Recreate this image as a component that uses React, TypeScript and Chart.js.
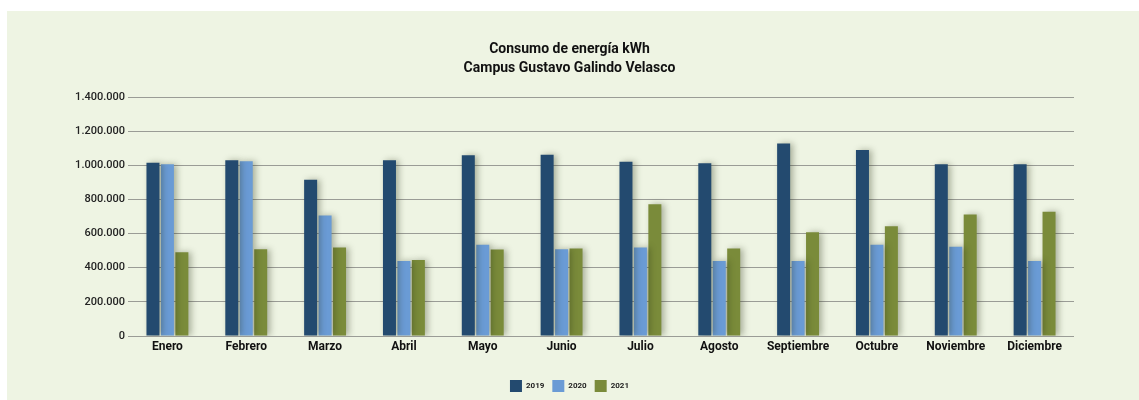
import React, { useEffect, useRef } from "react";
import { Chart, registerables } from "chart.js";

Chart.register(...registerables);

const months = ["Enero", "Febrero", "Marzo", "Abril", "Mayo", "Junio", "Julio", "Agosto", "Septiembre", "Octubre", "Noviembre", "Diciembre"];
const v2019 = [1015000, 1030000, 916000, 1029000, 1059000, 1061000, 1021000, 1012000, 1128000, 1090000, 1006000, 1006000];
const v2020 = [1006000, 1023000, 706000, 439000, 535000, 508000, 518000, 439000, 439000, 535000, 523000, 439000];
const v2021 = [490000, 508000, 519000, 445000, 506000, 512000, 772000, 512000, 608000, 643000, 712000, 728000];
const titleLines = ["Consumo de energía kWh", "Campus Gustavo Galindo Velasco"];

const fmt = (v: number) => v.toString().replace(/\B(?=(\d{3})+(?!\d))/g, ".");

export default function App() {
  const ref = useRef<HTMLCanvasElement | null>(null);
  useEffect(() => {
    document.body.style.margin = "0";
    const canvas = ref.current!;
    const bgPlugin = {
      id: "bg",
      beforeDraw(chart: any) {
        const ctx = chart.ctx;
        ctx.save();
        ctx.fillStyle = "#ffffff";
        ctx.fillRect(0, 0, chart.width, chart.height);
        ctx.fillStyle = "#eef4e3";
        ctx.fillRect(7, 11, chart.width - 7, chart.height - 11);
        ctx.restore();
      },
    };
    const shadowPlugin = {
      id: "shadow",
      beforeDatasetsDraw(chart: any) {
        const ctx = chart.ctx;
        ctx.save();
        ctx.shadowColor = "rgba(40,50,20,0.35)";
        ctx.shadowBlur = 6;
        ctx.shadowOffsetX = 3;
        ctx.shadowOffsetY = 0;
      },
      afterDatasetsDraw(chart: any) {
        chart.ctx.restore();
      },
    };
    const chart = new Chart(canvas, {
      type: "bar",
      data: {
        labels: months,
        datasets: [
          { label: "2019", data: v2019, backgroundColor: "#234a6f" },
          { label: "2020", data: v2020, backgroundColor: "#6a9bd5" },
          { label: "2021", data: v2021, backgroundColor: "#7a8b3a" },
        ],
      },
      options: {
        animation: false,
        responsive: false,
        maintainAspectRatio: false,
        layout: { padding: { left: 0, right: 0, top: 0, bottom: -2 } },
        datasets: { bar: { categoryPercentage: 0.55, barPercentage: 0.9 } },
        plugins: {
          title: {
            display: true,
            text: titleLines,
            color: "#111",
            font: { family: "Roboto", size: 14, weight: "bold", lineHeight: 19 / 14 },
            padding: { top: 40, bottom: 19 },
          },
          legend: {
            position: "bottom",
            labels: {
              boxWidth: 12,
              boxHeight: 12,
              padding: 8,
              color: "#222",
              font: { family: "Roboto", size: 8, weight: "bold" },
            },
          },
          tooltip: { enabled: false },
        },
        scales: {
          x: {
            grid: { display: false, drawTicks: false },
            border: { display: false },
            ticks: {
              color: "#111",
              padding: 4,
              maxRotation: 0,
              autoSkip: false,
              font: { family: "Roboto", size: 12, weight: "bold" },
            },
            afterFit(scale: any) {
              scale.height = 36;
            },
          },
          y: {
            min: 0,
            max: 1400000,
            grid: { color: "#9a9c96", drawTicks: false, lineWidth: 1 },
            border: { display: false },
            ticks: {
              stepSize: 200000,
              color: "#222",
              padding: 3,
              font: { family: "Roboto", size: 11, weight: "500" },
              callback: (v: any) => fmt(Number(v)),
            },
            afterFit(scale: any) {
              scale.width = 128;
            },
          },
          yRight: {
            position: "right",
            display: true,
            min: 0,
            max: 1400000,
            grid: { drawOnChartArea: false, drawTicks: false },
            border: { display: false },
            ticks: { display: false },
            afterFit(scale: any) {
              scale.width = 65;
            },
          },
        },
      },
      plugins: [bgPlugin, shadowPlugin],
    });
    return () => chart.destroy();
  }, []);
  return <canvas ref={ref} width={1139} height={400} style={{ display: "block" }} />;
}
